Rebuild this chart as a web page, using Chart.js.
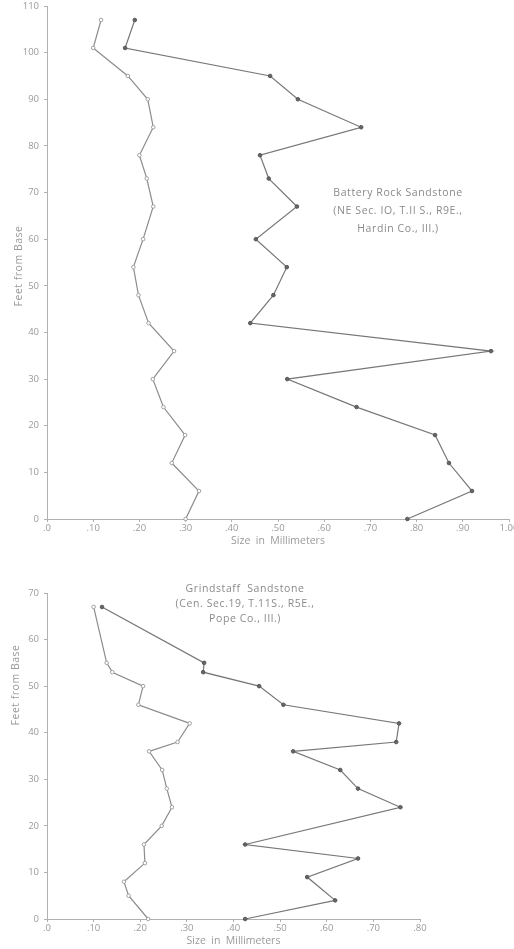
<!DOCTYPE html>
<html>
<head>
<meta charset="utf-8">
<script src="https://cdn.jsdelivr.net/npm/chart.js@4/dist/chart.umd.min.js"></script>
<style>
  body { margin: 0; background: #fff; width: 514px; height: 949px; position: relative; overflow: hidden; }
  .wrap { position: absolute; left: 0; width: 514px; }
  .note { position: absolute; text-align: center; color: #8a8a8a; font-family: "Open Sans", sans-serif;
          font-size: 10.5px; letter-spacing: 0.6px; white-space: nowrap; transform: translateX(-50%); }
</style>
</head>
<body>
<div class="wrap" style="top:0;height:549px"><canvas id="topChart" width="514" height="549"></canvas></div>
<div class="wrap" style="top:549px;height:400px"><canvas id="bottomChart" width="514" height="400"></canvas></div>

<div class="note" style="left:398px;top:183px;line-height:18px">Battery Rock Sandstone<br>(NE Sec. IO, T.II S., R9E.,<br>Hardin Co., Ill.)</div>
<div class="note" style="left:245px;top:581px;line-height:15px">Grindstaff&nbsp; Sandstone<br>(Cen. Sec.19, T.11S., R5E.,<br>Pope Co., Ill.)</div>

<script>
// Battery Rock Sandstone (top chart)
const feetTop = [0, 6, 12, 18, 24, 30, 36, 42, 48, 54, 60, 67, 73, 78, 84, 90, 95, 101, 107];
const finerTop = [.30, .329, .27, .299, .252, .229, .275, .22, .198, .187, .208, .23, .216, .20, .23, .218, .175, .10, .117];
const coarserTop = [.78, .92, .87, .84, .67, .52, .961, .44, .49, .519, .452, .541, .48, .461, .68, .543, .483, .169, .19];
const xLabelsTop = ['.0', '.10', '.20', '.30', '.40', '.50', '.60', '.70', '.80', '.90', '1.00'];

// Grindstaff Sandstone (bottom chart)
const feetFinerBottom = [0, 5, 8, 12, 16, 20, 24, 28, 32, 36, 38, 42, 46, 50, 53, 55, 67];
const finerBottom = [.217, .175, .165, .21, .208, .246, .268, .257, .247, .219, .28, .306, .196, .206, .14, .128, .10];
const feetCoarserBottom = [0, 4, 9, 13, 16, 24, 28, 32, 36, 38, 42, 46, 50, 53, 55, 67];
const coarserBottom = [.425, .618, .558, .667, .425, .758, .667, .629, .528, .749, .755, .507, .455, .335, .337, .118];
const xLabelsBottom = ['.0', '.10', '.20', '.30', '.40', '.50', '.60', '.70', '.80'];

const textColor = '#9a9a9a';
const tickFont = { family: 'Open Sans', size: 9.5 };

function toPoints(sizes, feet) {
    return sizes.map((v, i) => ({ x: v, y: feet[i] }));
}

// rotated "Feet from Base" label placed where the original has it
const sideTitle = {
    id: 'sideTitle',
    afterDraw(chart, args, opts) {
        const ctx = chart.ctx;
        ctx.save();
        ctx.translate(opts.x, opts.y);
        ctx.rotate(-Math.PI / 2);
        ctx.font = '10.5px "Open Sans"';
        ctx.fillStyle = textColor;
        ctx.textAlign = 'center';
        ctx.textBaseline = 'middle';
        ctx.letterSpacing = '0.5px';
        ctx.fillText(opts.text, 0, 0);
        ctx.restore();
    }
};

function lineSet(data, dark) {
    return {
        data: data,
        showLine: true,
        borderColor: dark ? '#777' : '#8c8c8c',
        borderWidth: 1.2,
        pointRadius: 1.8,
        pointBackgroundColor: dark ? '#666' : '#fff',
        pointBorderColor: dark ? '#555' : '#a0a0a0',
        pointBorderWidth: 1,
        clip: false
    };
}

function makeChart(id, cfg) {
    return new Chart(document.getElementById(id), {
        type: 'scatter',
        data: {
            datasets: [
                lineSet(toPoints(cfg.finer, cfg.feetFiner), false),
                lineSet(toPoints(cfg.coarser, cfg.feetCoarser), true)
            ]
        },
        options: {
            responsive: false,
            animation: false,
            layout: { padding: cfg.padding },
            plugins: {
                legend: { display: false },
                tooltip: { enabled: false },
                sideTitle: { text: 'Feet from Base', x: cfg.sideX, y: cfg.sideY }
            },
            scales: {
                x: {
                    type: 'linear',
                    min: 0,
                    max: cfg.xMax,
                    afterFit: s => { s.height = 30; s.paddingLeft = 0; s.paddingRight = 0; },
                    border: { color: '#b0b0b0', dash: [1, 1], width: 1 },
                    grid: { drawOnChartArea: false, tickLength: 3, color: '#b0b0b0' },
                    ticks: {
                        stepSize: 0.1,
                        autoSkip: false,
                        maxRotation: 0,
                        padding: 1,
                        color: textColor,
                        font: tickFont,
                        callback: (v, i) => cfg.xLabels[i]
                    },
                    title: {
                        display: true,
                        text: 'Size  in  Millimeters',
                        color: textColor,
                        font: { family: 'Open Sans', size: 10.5 },
                        padding: { top: 0, bottom: 2 }
                    }
                },
                y: {
                    type: 'linear',
                    min: 0,
                    max: cfg.yMax,
                    afterFit: s => { s.width = 47; s.paddingTop = 0; s.paddingBottom = 0; },
                    border: { color: '#b0b0b0', dash: [1, 1], width: 1 },
                    grid: { drawOnChartArea: false, tickLength: 3, color: '#b0b0b0' },
                    ticks: {
                        stepSize: 10,
                        padding: 5,
                        color: textColor,
                        font: tickFont
                    }
                }
            }
        },
        plugins: [sideTitle]
    });
}

makeChart('topChart', {
    finer: finerTop, feetFiner: feetTop,
    coarser: coarserTop, feetCoarser: feetTop,
    xLabels: xLabelsTop, xMax: 1.0, yMax: 110,
    padding: { top: 6, right: 5, left: 0, bottom: 0 },
    sideX: 19, sideY: 266
});

makeChart('bottomChart', {
    finer: finerBottom, feetFiner: feetFinerBottom,
    coarser: coarserBottom, feetCoarser: feetCoarserBottom,
    xLabels: xLabelsBottom, xMax: 0.8, yMax: 70,
    padding: { top: 44, right: 94, left: 0, bottom: 0 },
    sideX: 16, sideY: 136
});
</script>
</body>
</html>
